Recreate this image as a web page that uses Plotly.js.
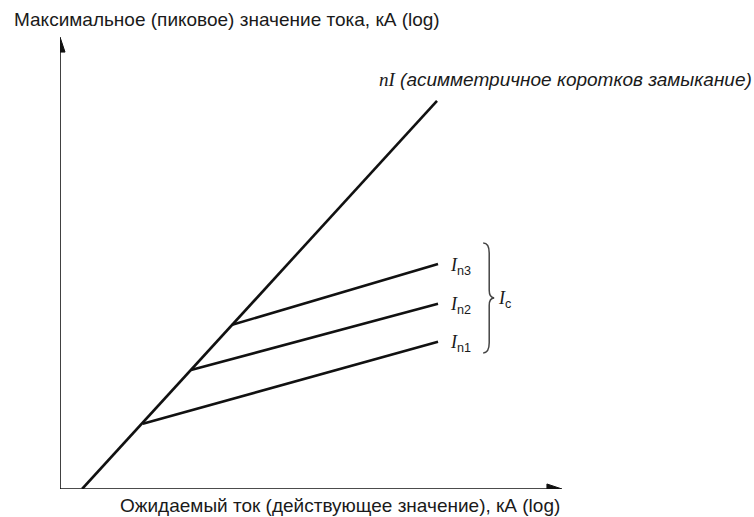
<!DOCTYPE html>
<html>
<head>
<meta charset="utf-8">
<script src="https://cdn.plot.ly/plotly-3.0.1.min.js"></script>
<style>html,body{margin:0;padding:0;background:#fff;}#chart{width:754px;height:517px;}</style>
</head>
<body>
<div id="chart"></div>
<script>
// Schematic values (log-scale units, arbitrary)
const mainX = [0.44, 7.51];
const mainY = [0.00, 7.73];
const branchNames = ['n1', 'n2', 'n3'];
const kinkX = [1.65, 2.61, 3.43];
const kinkY = [1.30, 2.37, 3.27];
const endX = [7.53, 7.53, 7.53];
const endY = [2.93, 3.69, 4.48];
const yTitle = 'Максимальное (пиковое) значение тока, кА (log)';
const xTitle = 'Ожидаемый ток (действующее значение), кА (log)';
const mainLabel = '(асимметричное коротков замыкание)';
const xMax = 10, yMax = 9;

const ink = '#111';
const traces = [{
  x: mainX, y: mainY, mode: 'lines', line: {color: ink, width: 2.6}, hoverinfo: 'skip'
}];
for (let i = 0; i < kinkX.length; i++) {
  traces.push({x: [kinkX[i], endX[i]], y: [kinkY[i], endY[i]], mode: 'lines',
    line: {color: ink, width: 2.6}, hoverinfo: 'skip'});
}

const annotations = [];
// axis titles
annotations.push({x: -0.0956, y: 1.038, xref: 'paper', yref: 'paper', xanchor: 'left', yanchor: 'middle',
  text: yTitle, showarrow: false, font: {family: 'Liberation Sans, Arial', size: 19, color: '#1a1a1a'}});
annotations.push({x: 0.558, y: -0.036, xref: 'paper', yref: 'paper', xanchor: 'center', yanchor: 'middle',
  text: xTitle, showarrow: false, font: {family: 'Liberation Sans, Arial', size: 19, color: '#1a1a1a'}});
// main line label
annotations.push({x: mainX[1] - 1.2, y: mainY[1] + 0.42, xref: 'x', yref: 'y', xanchor: 'left', yanchor: 'middle',
  text: '<span style="font-family:Liberation Serif"><i>nI</i></span> <i>' + mainLabel + '</i>',
  showarrow: false, font: {family: 'Liberation Sans, Arial', size: 19, color: '#1a1a1a'}});
// branch labels
for (let i = 0; i < branchNames.length; i++) {
  annotations.push({x: endX[i] + 0.2, y: endY[i] - 0.04, xref: 'x', yref: 'y', xanchor: 'left', yanchor: 'middle',
    text: '<span style="font-family:Liberation Serif"><i>I</i></span><sub>' + branchNames[i] + '</sub>',
    showarrow: false, font: {family: 'Liberation Sans, Arial', size: 18, color: '#1a1a1a'}});
}
// brace derived from series ends
const bTop = Math.max(...endY) + 0.42, bBot = Math.min(...endY) - 0.22;
const bMid = (bTop + bBot) / 2;
const bx0 = Math.max(...endX) + 0.9, bx1 = bx0 + 0.12, bx2 = bx0 + 0.22;
const bracePath = `M ${bx0},${bTop} Q ${bx1},${bTop} ${bx1},${bTop-0.2} L ${bx1},${bMid+0.15} Q ${bx1},${bMid} ${bx2},${bMid} ` +
  `Q ${bx1},${bMid} ${bx1},${bMid-0.15} L ${bx1},${bBot+0.2} Q ${bx1},${bBot} ${bx0},${bBot}`;
annotations.push({x: bx2 + 0.04, y: bMid - 0.03, xref: 'x', yref: 'y', xanchor: 'left', yanchor: 'middle',
  text: '<span style="font-family:Liberation Serif"><i>I</i></span><sub>c</sub>',
  showarrow: false, font: {family: 'Liberation Sans, Arial', size: 18, color: '#1a1a1a'}});

// axes with arrowheads (shapes)
const ahL = 0.3, ahW = 0.1;
const shapes = [
  {type: 'line', xref: 'x', yref: 'y', x0: 0, y0: 0, x1: xMax - ahL * 0.8, y1: 0, line: {color: ink, width: 1.6}},
  {type: 'line', xref: 'x', yref: 'y', x0: 0, y0: 0, x1: 0, y1: yMax - ahL * 0.8, line: {color: ink, width: 1.6}},
  {type: 'path', xref: 'x', yref: 'y', path: `M ${xMax},0 L ${xMax - ahL},${ahW} L ${xMax - ahL},${-ahW} Z`,
    fillcolor: ink, line: {color: ink, width: 1}},
  {type: 'path', xref: 'x', yref: 'y', path: `M 0,${yMax} L ${ahW},${yMax - ahL} L ${-ahW},${yMax - ahL} Z`,
    fillcolor: ink, line: {color: ink, width: 1}},
  {type: 'path', path: bracePath, xref: 'x', yref: 'y', line: {color: '#444', width: 1.5}}
];

const layout = {
  width: 754, height: 517,
  margin: {l: 60, r: 192, t: 37, b: 28, pad: 0},
  paper_bgcolor: '#fff', plot_bgcolor: '#fff',
  showlegend: false,
  xaxis: {range: [0, xMax], visible: false, fixedrange: true},
  yaxis: {range: [0, yMax], visible: false, fixedrange: true},
  annotations: annotations,
  shapes: shapes
};
Plotly.newPlot('chart', traces, layout, {displayModeBar: false, staticPlot: true});
</script>
</body>
</html>
